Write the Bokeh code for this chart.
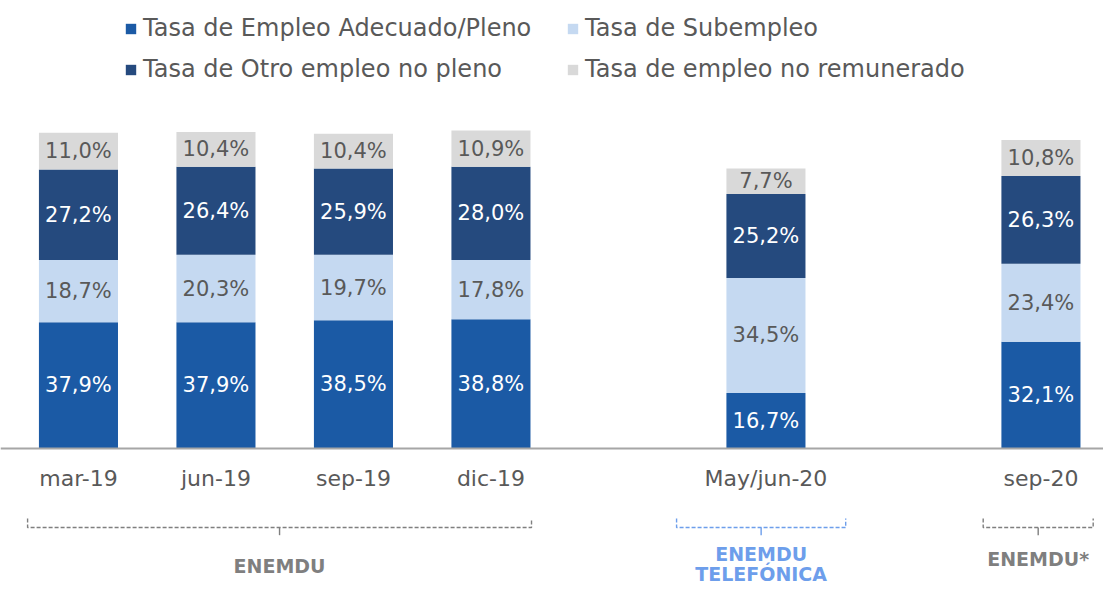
from bokeh.plotting import figure
from bokeh.models import (ColumnDataSource, Range1d, FixedTicker, Legend, LegendItem)
from bokeh.core.properties import value
from bokeh.embed import file_html
from bokeh.resources import INLINE

# ---------------- data ----------------
periods = ["mar-19", "jun-19", "sep-19", "dic-19", "May/jun-20", "sep-20"]
adecuado = [37.9, 37.9, 38.5, 38.8, 16.7, 32.1]
subempleo = [18.7, 20.3, 19.7, 17.8, 34.5, 23.4]
otro = [27.2, 26.4, 25.9, 28.0, 25.2, 26.3]
no_remunerado = [11.0, 10.4, 10.4, 10.9, 7.7, 10.8]
series_names = ["Tasa de Empleo Adecuado/Pleno", "Tasa de Subempleo",
                "Tasa de Otro empleo no pleno", "Tasa de empleo no remunerado"]
groups = ["ENEMDU", "ENEMDU\nTELEFÓNICA", "ENEMDU*"]

# ---------------- layout / style ----------------
slots = [0, 1, 2, 3, 5, 7]          # x slots (gaps between survey groups)
colors = ["#1b5aa5", "#c5d9f1", "#254a7e", "#d9d9d9"]
label_colors = ["#ffffff", "#595959", "#ffffff", "#595959"]
FONT = "DejaVu Sans"

keys = ["adecuado", "subempleo", "otro", "no_remunerado"]
src = ColumnDataSource(dict(x=slots, adecuado=adecuado, subempleo=subempleo,
                            otro=otro, no_remunerado=no_remunerado))

p = figure(width=1103, height=594, output_backend="svg", toolbar_location=None,
           x_range=Range1d(-0.567, 7.455), y_range=Range1d(-43.8, 134.5),
           y_axis_location=None, min_border=0)
p.background_fill_color = "white"
p.border_fill_color = "white"
p.outline_line_color = None
p.grid.visible = False

renderers = p.vbar_stack(keys, x="x", width=0.575, source=src,
                         color=colors, line_width=0)

# segment labels
lx, ly, lt, lc = [], [], [], []
series = [adecuado, subempleo, otro, no_remunerado]
for i, xs in enumerate(slots):
    base = 0.0
    for s, vals in enumerate(series):
        v = vals[i]
        lx.append(xs)
        ly.append(base + v / 2)
        lt.append(f"{v:.1f}%".replace(".", ","))
        lc.append(label_colors[s])
        base += v
p.text(x=lx, y=ly, text=lt, text_color=lc, text_align="center",
       text_baseline="middle", text_font=value(FONT), text_font_size=value("21px"))

# x axis at zero
ax = p.xaxis[0]
ax.fixed_location = 0
ax.ticker = FixedTicker(ticks=slots)
ax.major_label_overrides = {s: lab for s, lab in zip(slots, periods)}
ax.major_tick_in = 0
ax.major_tick_out = 0
ax.minor_tick_in = 0
ax.minor_tick_out = 0
ax.axis_line_color = "#a6a6a6"
ax.axis_line_width = 2
ax.major_label_standoff = 17
ax.major_label_text_font = FONT
ax.major_label_text_font_size = "22px"
ax.major_label_text_color = "#595959"

# brackets (layout)
br_start = [-0.37, 4.35, 6.58]
br_end = [3.295, 5.58, 7.38]
br_colors = ["#7f7f7f", "#6d9eeb", "#7f7f7f"]
y_top, y_bot, y_tick = -21.0, -23.7, -26.0
for a, b, c in zip(br_start, br_end, br_colors):
    m = (a + b) / 2
    p.line(x=[a, a, b, b], y=[y_top, y_bot, y_bot, y_top], line_color=c,
           line_width=1.4, line_dash="4 2")
    p.line(x=[m, m], y=[y_bot, y_tick], line_color=c, line_width=1.4)

# group labels
g_x = [(a + b) / 2 for a, b in zip(br_start, br_end)]
g_y = [-35.1, -31.5, -33.0]
line_step = 6.0
for gx, gy, gt, gc in zip(g_x, g_y, groups, br_colors):
    for k, part in enumerate(gt.split("\n")):
        p.text(x=[gx], y=[gy - k * line_step], text=[part], text_color=gc,
               text_align="center", text_baseline="middle",
               text_font=value(FONT), text_font_size=value("19px"),
               text_font_style="bold")

# legends
def make_legend(idx, xloc):
    items = [LegendItem(label=series_names[i], renderers=[renderers[i]]) for i in idx]
    lg = Legend(items=items, location=(xloc, 511), orientation="vertical",
                border_line_color=None, background_fill_alpha=0,
                padding=0, margin=0, spacing=13, label_height=26,
                glyph_height=13, glyph_width=13, label_standoff=6,
                label_text_font=FONT, label_text_font_size="24px",
                label_text_color="#595959")
    return lg

p.add_layout(make_legend([0, 2], 124), "center")
p.add_layout(make_legend([1, 3], 566), "center")

open("out.html", "w").write(file_html(p, INLINE))
